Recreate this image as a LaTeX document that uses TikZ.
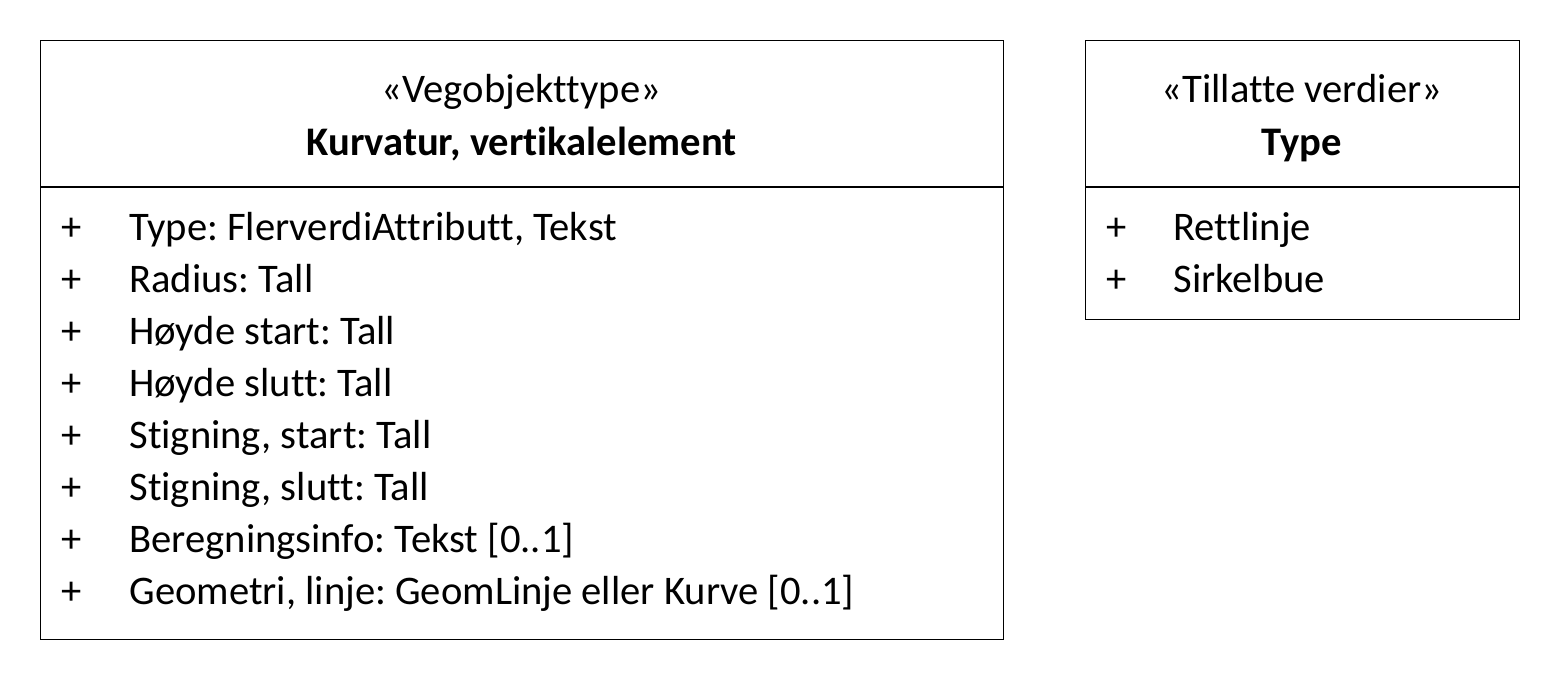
\documentclass[tikz,border=0pt]{standalone}
\usepackage{fontspec}
\setmainfont[RawFeature=-liga]{Carlito}
\frenchspacing
\usetikzlibrary{positioning}
\tikzset{
  class-box/.style={draw=black,line width=0.6pt,anchor=north west,inner sep=0pt},
  class-line/.style={draw=black,line width=0.6pt},
  uml-text/.style={font=\fontsize{20.3}{24}\selectfont,inner sep=0pt},
  uml-stereo/.style={uml-text,anchor=base},
  uml-name/.style={uml-text,anchor=base,font=\fontsize{20.3}{24}\selectfont\bfseries},
  uml-attr/.style={uml-text,anchor=base west},
}
\begin{document}
\begin{tikzpicture}[x=0.5pt,y=-0.5pt]
  \useasboundingbox (0,0) rectangle (1560,680);
  % Vegobjekttype
  \node[class-box,minimum width=481.5pt,minimum height=299.5pt] (kurv) at (40,40) {};
  \draw[class-line] (kurv.west |- 0,187) -- (kurv.east |- 0,187);
  \node[uml-stereo] (kurv-st) at (521.5,102) {«Vegobjekttype»};
  \node[uml-name]   (kurv-nm) at (521.5,155) {Kurvatur, vertikalelement};
  \foreach \txt [count=\i from 0] in {{Type: FlerverdiAttributt, Tekst},{Radius: Tall},
      {Høyde start: Tall},{Høyde slutt: Tall},{Stigning, start: Tall},
      {Stigning, slutt: Tall},{Beregningsinfo: Tekst [0..1]},
      {Geometri, linje: GeomLinje eller Kurve [0..1]}}{
    \node[uml-attr] (kurv-p\i) at (61,240+52*\i) {+};
    \node[uml-attr] (kurv-a\i) at (129,240+52*\i) {\txt};
  }
  % Tillatte verdier
  \node[class-box,minimum width=217pt,minimum height=139.5pt] (type) at (1085,40) {};
  \draw[class-line] (type.west |- 0,187) -- (type.east |- 0,187);
  \node[uml-stereo] (type-st) at (1302,102) {«Tillatte verdier»};
  \node[uml-name]   (type-nm) at (1302,155) {Type};
  \foreach \txt [count=\i from 0] in {Rettlinje,Sirkelbue}{
    \node[uml-attr] (type-p\i) at (1106,240+52*\i) {+};
    \node[uml-attr] (type-a\i) at (1173,240+52*\i) {\txt};
  }
\end{tikzpicture}
\end{document}
